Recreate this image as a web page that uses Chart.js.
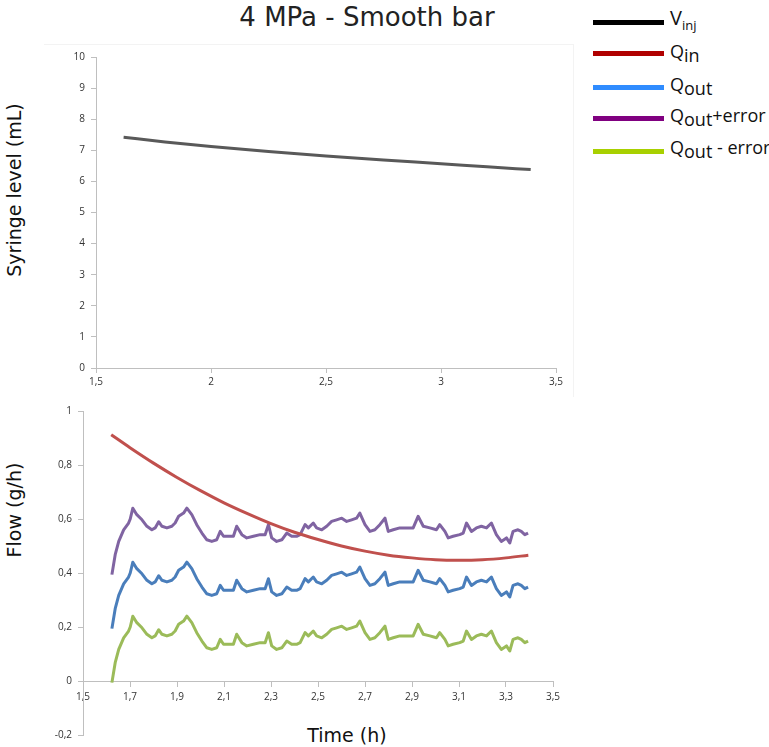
<!DOCTYPE html>
<html>
<head>
<meta charset="utf-8">
<script src="https://cdn.jsdelivr.net/npm/chart.js@4.4.1/dist/chart.umd.min.js"></script>
<style>
  html, body { margin: 0; padding: 0; background: #fff; }
  body { width: 769px; height: 747px; position: relative; overflow: hidden; font-family: "DejaVu Sans", sans-serif; }
  .abs { position: absolute; }
  #topWrap { left: 20px; top: 40px; width: 560px; height: 360px; }
  #botWrap { left: 10px; top: 395px; width: 570px; height: 352px; }
  .frame { left: 44px; top: 44px; width: 529px; height: 352px; border-top: 1px solid #f3f3f3; border-right: 1px solid #f3f3f3; }
  .title { left: 367px; top: 17px; transform: translate(-50%, -50%); font-size: 26px; color: #222; white-space: nowrap; }
  .ytitle { transform: translate(-50%, -50%) rotate(-90deg); font-size: 19px; color: #111; white-space: nowrap; }
  .xtitle { left: 347px; top: 735px; transform: translate(-50%, -50%); font-size: 19px; color: #111; white-space: nowrap; }
  .lg-line { position: absolute; left: 593px; width: 71px; height: 5px; }
  .lg-text { position: absolute; left: 670px; font-family: "Open Sans", sans-serif; font-size: 18px; color: #111; white-space: nowrap; line-height: 1; }
  .lg-text .s { position: relative; top: 4px; }
  .lg-text .ss { position: relative; top: 5px; font-size: 13px; }
</style>
</head>
<body>
<div class="abs frame"></div>
<div class="abs title">4 MPa - Smooth bar</div>
<div class="abs ytitle" style="left:14px; top:190px;">Syringe level (mL)</div>
<div class="abs ytitle" style="left:14px; top:510px;">Flow (g/h)</div>
<div class="abs xtitle">Time (h)</div>

<div class="lg-line" style="top:20px; background:#000000;"></div>
<div class="lg-text" style="top:8px; font-size:20px;">V<span class="ss">inj</span></div>
<div class="lg-line" style="top:51px; background:#b00000;"></div>
<div class="lg-text" style="top:42px;">Q<span class="s">in</span></div>
<div class="lg-line" style="top:85px; background:#2f8cff;"></div>
<div class="lg-text" style="top:75px;">Q<span class="s">out</span></div>
<div class="lg-line" style="top:116px; background:#800080;"></div>
<div class="lg-text" style="top:106px;">Q<span class="s">out</span>+error</div>
<div class="lg-line" style="top:149px; background:#a8d000;"></div>
<div class="lg-text" style="top:138px;">Q<span class="s">out</span> - error</div>

<div id="topWrap" class="abs"><canvas id="topChart"></canvas></div>
<div id="botWrap" class="abs"><canvas id="botChart"></canvas></div>

<script>
// ---------- DATA ----------
const seriesNames = ["Vinj", "Qin", "Qout", "Qout+error", "Qout - error"];

// Syringe level (mL) vs time (h)
const vinjTime = [1.62, 1.8, 2.0, 2.25, 2.5, 2.75, 3.0, 3.2, 3.39];
const vinjLevel = [7.42, 7.27, 7.12, 6.96, 6.82, 6.69, 6.57, 6.47, 6.38];

// Qin (g/h) vs time (h)
const qinTime = [1.62, 1.7, 1.8, 1.9, 2.0, 2.1, 2.2, 2.3, 2.4, 2.5, 2.6, 2.7, 2.8, 2.9, 3.0, 3.1, 3.2, 3.3, 3.395];
const qinFlow = [0.912, 0.864, 0.807, 0.754, 0.705, 0.660, 0.620, 0.583, 0.551, 0.524, 0.500, 0.481, 0.466, 0.456, 0.449, 0.447, 0.449, 0.456, 0.466];

// Measured outflow (g/h) vs time (h)
const qoutTime = [1.623, 1.637, 1.652, 1.673, 1.694, 1.701, 1.712, 1.729, 1.751, 1.772, 1.793, 1.807, 1.822, 1.836, 1.857, 1.878, 1.892, 1.907, 1.928, 1.942,
  1.963, 1.984, 2.006, 2.027, 2.048, 2.069, 2.084, 2.098, 2.119, 2.140, 2.154, 2.176, 2.197, 2.225, 2.254, 2.275, 2.289, 2.303, 2.324, 2.346,
  2.367, 2.388, 2.409, 2.424, 2.445, 2.459, 2.480, 2.494, 2.516, 2.537, 2.558, 2.579, 2.601, 2.622, 2.643, 2.664, 2.678, 2.700, 2.721, 2.742,
  2.763, 2.785, 2.799, 2.820, 2.848, 2.877, 2.905, 2.926, 2.948, 2.976, 3.004, 3.018, 3.040, 3.054, 3.075, 3.103, 3.118, 3.132, 3.153, 3.174,
  3.195, 3.217, 3.238, 3.259, 3.280, 3.302, 3.316, 3.330, 3.351, 3.365, 3.380, 3.394];
const qout = [0.194, 0.268, 0.317, 0.360, 0.385, 0.400, 0.440, 0.416, 0.397, 0.373, 0.360, 0.367, 0.390, 0.373, 0.367, 0.373, 0.385, 0.410, 0.422, 0.440,
  0.416, 0.379, 0.348, 0.323, 0.317, 0.323, 0.354, 0.336, 0.336, 0.336, 0.373, 0.342, 0.330, 0.336, 0.342, 0.342, 0.379, 0.330, 0.317, 0.323,
  0.348, 0.336, 0.336, 0.342, 0.379, 0.367, 0.385, 0.367, 0.360, 0.373, 0.391, 0.397, 0.403, 0.391, 0.397, 0.403, 0.422, 0.379, 0.354, 0.360,
  0.379, 0.403, 0.354, 0.360, 0.367, 0.367, 0.367, 0.410, 0.373, 0.367, 0.360, 0.379, 0.354, 0.330, 0.336, 0.342, 0.348, 0.385, 0.354, 0.367,
  0.373, 0.367, 0.385, 0.342, 0.317, 0.330, 0.311, 0.354, 0.360, 0.354, 0.342, 0.348];
const qoutPlus = [0.394, 0.468, 0.517, 0.560, 0.585, 0.600, 0.640, 0.616, 0.597, 0.573, 0.560, 0.567, 0.590, 0.573, 0.567, 0.573, 0.585, 0.610, 0.622, 0.640,
  0.616, 0.579, 0.548, 0.523, 0.517, 0.523, 0.554, 0.536, 0.536, 0.536, 0.573, 0.542, 0.530, 0.536, 0.542, 0.542, 0.579, 0.530, 0.517, 0.523,
  0.548, 0.536, 0.536, 0.542, 0.579, 0.567, 0.585, 0.567, 0.560, 0.573, 0.591, 0.597, 0.603, 0.591, 0.597, 0.603, 0.622, 0.579, 0.554, 0.560,
  0.579, 0.603, 0.554, 0.560, 0.567, 0.567, 0.567, 0.610, 0.573, 0.567, 0.560, 0.579, 0.554, 0.530, 0.536, 0.542, 0.548, 0.585, 0.554, 0.567,
  0.573, 0.567, 0.585, 0.542, 0.517, 0.530, 0.511, 0.554, 0.560, 0.554, 0.542, 0.548];
const qoutMinus = [-0.006, 0.068, 0.117, 0.160, 0.185, 0.200, 0.240, 0.216, 0.197, 0.173, 0.160, 0.167, 0.190, 0.173, 0.167, 0.173, 0.185, 0.210, 0.222, 0.240,
  0.216, 0.179, 0.148, 0.123, 0.117, 0.123, 0.154, 0.136, 0.136, 0.136, 0.173, 0.142, 0.130, 0.136, 0.142, 0.142, 0.179, 0.130, 0.117, 0.123,
  0.148, 0.136, 0.136, 0.142, 0.179, 0.167, 0.185, 0.167, 0.160, 0.173, 0.191, 0.197, 0.203, 0.191, 0.197, 0.203, 0.222, 0.179, 0.154, 0.160,
  0.179, 0.203, 0.154, 0.160, 0.167, 0.167, 0.167, 0.210, 0.173, 0.167, 0.160, 0.179, 0.154, 0.130, 0.136, 0.142, 0.148, 0.185, 0.154, 0.167,
  0.173, 0.167, 0.185, 0.142, 0.117, 0.130, 0.111, 0.154, 0.160, 0.154, 0.142, 0.148];

// ---------- HELPERS ----------
const pts = (xs, ys) => xs.map((x, i) => ({ x: x, y: ys[i] }));
const comma = v => String(Number(v.toFixed(2))).replace('.', ',');
const comma1 = v => v.toFixed(1).replace('.', ',');
const tickFont = { family: "'Open Sans', sans-serif", size: 10 };
const axisGrey = '#bfbfbf';

function fixedWidth(w) { return s => { s.width = w; }; }
function fixedHeight(h) { return s => { s.height = h; }; }

const smoothDs = (label, data, color, width) => ({
  label, data, borderColor: color, backgroundColor: color, borderWidth: width,
  pointRadius: 0, fill: false, tension: 0.4, cubicInterpolationMode: 'monotone'
});
const rawDs = (label, data, color, width) => ({
  label, data, borderColor: color, backgroundColor: color, borderWidth: width,
  pointRadius: 0, fill: false, tension: 0, cubicInterpolationMode: 'default', borderJoinStyle: 'round'
});

// ---------- TOP CHART ----------
new Chart(document.getElementById('topChart'), {
  type: 'line',
  data: { datasets: [ smoothDs(seriesNames[0], pts(vinjTime, vinjLevel), '#595959', 3) ] },
  options: {
    responsive: true, maintainAspectRatio: false, animation: false,
    layout: { padding: { top: 17, right: 24, left: 0, bottom: 0 } },
    plugins: { legend: { display: false }, tooltip: { enabled: false } },
    scales: {
      x: {
        type: 'linear', min: 1.5, max: 3.5,
        ticks: { stepSize: 0.5, callback: v => comma(v), font: tickFont, color: '#333', padding: 3, maxRotation: 0 },
        grid: { drawOnChartArea: false, drawTicks: true, tickLength: 5, tickColor: axisGrey },
        border: { color: axisGrey, width: 1 },
        afterFit: fixedHeight(32)
      },
      y: {
        min: 0, max: 10,
        ticks: { stepSize: 1, font: tickFont, color: '#333', padding: 6 },
        grid: { drawOnChartArea: false, drawTicks: true, tickLength: 5, tickColor: axisGrey },
        border: { color: axisGrey, width: 1 },
        afterFit: fixedWidth(76)
      }
    }
  }
});

// ---------- BOTTOM CHART ----------
new Chart(document.getElementById('botChart'), {
  type: 'line',
  data: {
    datasets: [
      smoothDs(seriesNames[1], pts(qinTime, qinFlow), '#c0504d', 3),
      rawDs(seriesNames[3], pts(qoutTime, qoutPlus), '#8064a2', 3),
      rawDs(seriesNames[2], pts(qoutTime, qout), '#4a7ebb', 3),
      rawDs(seriesNames[4], pts(qoutTime, qoutMinus), '#9bbb59', 3)
    ]
  },
  options: {
    responsive: true, maintainAspectRatio: false, animation: false,
    layout: { padding: { top: 16, right: 27, left: 0, bottom: 10 } },
    plugins: { legend: { display: false }, tooltip: { enabled: false } },
    scales: {
      x: {
        type: 'linear', min: 1.5, max: 3.5, position: { y: 0 },
        ticks: { stepSize: 0.2, callback: v => comma1(v), font: tickFont, color: '#333', padding: 5, maxRotation: 0, autoSkip: false },
        grid: { drawOnChartArea: false, drawTicks: true, tickLength: 5, tickColor: axisGrey },
        border: { color: axisGrey, width: 1 }
      },
      y: {
        min: -0.2, max: 1,
        ticks: { stepSize: 0.2, callback: v => comma(v), font: tickFont, color: '#333', padding: 6 },
        grid: { drawOnChartArea: false, drawTicks: true, tickLength: 5, tickColor: axisGrey },
        border: { color: axisGrey, width: 1 },
        afterFit: fixedWidth(73)
      }
    }
  }
});
</script>
</body>
</html>
